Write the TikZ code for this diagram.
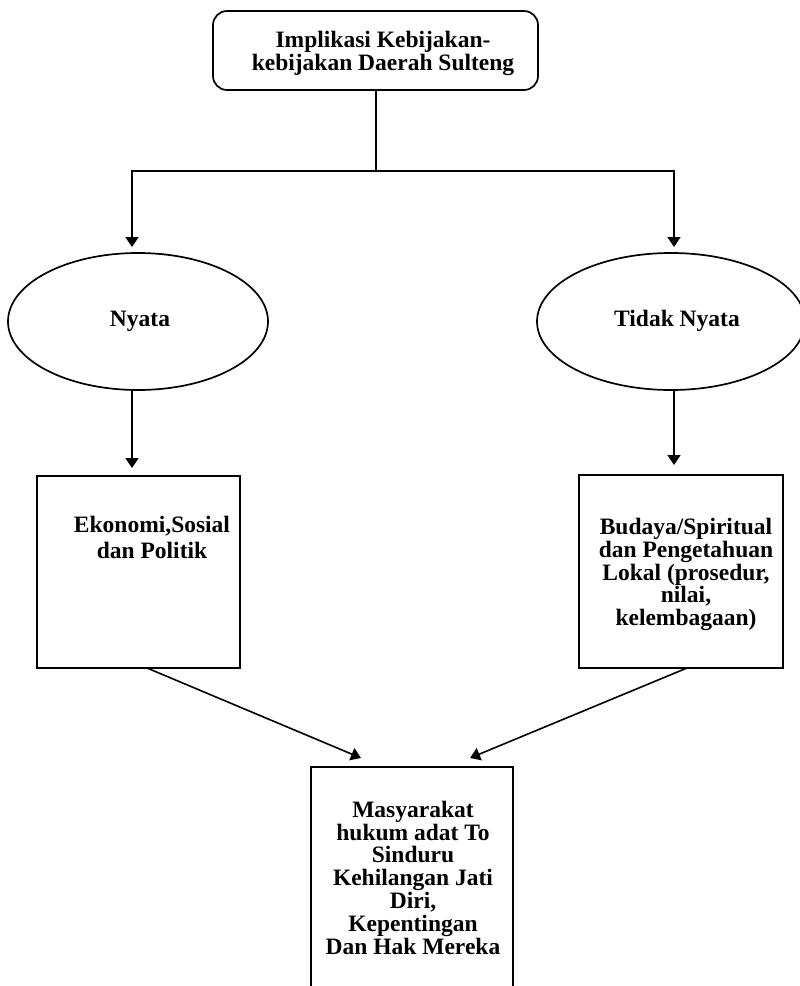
\documentclass[tikz,border=0pt]{standalone}
\usepackage{fontspec}
\setmainfont{Liberation Serif}
\usetikzlibrary{arrows.meta,shapes.geometric}
\begin{document}
\begin{tikzpicture}[x=1pt,y=-1pt,
  shape line/.style={draw, line width=1.7pt, inner sep=0pt},
  txt/.style={font=\fontsize{23.5}{22.8}\selectfont\bfseries, align=center, inner sep=0pt, anchor=base},
  conn/.style={line width=1.6pt},
  tip/.style={conn, -{Triangle[length=10pt,width=13pt]}},
]
\useasboundingbox (0,0) rectangle (800,986);

% shapes
\node[shape line, rounded corners=14pt, minimum width=325pt, minimum height=79pt] (top) at (375.5,50.5) {};
\node[shape line, ellipse, minimum width=260pt, minimum height=137pt] (nyata) at (138,321.5) {};
\node[shape line, ellipse, minimum width=268pt, minimum height=137pt] (tnyata) at (671,321.5) {};
\node[shape line, minimum width=203pt, minimum height=192pt] (eko) at (138.5,572) {};
\node[shape line, minimum width=204pt, minimum height=193pt] (budaya) at (681,571.5) {};

% bottom box, open at the lower edge
\coordinate (mTL) at (311,767);
\coordinate (mTR) at (513,767);
\draw[line width=1.7pt] (311,990) -- (mTL) -- (mTR) -- (513,990);

% texts (anchored at the baseline of the last line)
\node[txt] (topText) at (383,70) {Implikasi Kebijakan-\\kebijakan Daerah Sulteng};
\node[txt] (nyataText) at (140,326) {Nyata};
\node[txt] (tnyataText) at (677,326) {Tidak Nyata};
\node[txt] (ekoText) at (152,558.5) {Ekonomi,Sosial\\[2.9pt]dan Politik};
\node[txt] (budayaText) at (686,625.7) {Budaya/Spiritual\\dan Pengetahuan\\Lokal (prosedur,\\nilai,\\kelembagaan)};
\node[txt] (mText) at (413,954) {Masyarakat\\hukum adat To\\Sinduru\\Kehilangan Jati\\Diri,\\Kepentingan\\Dan Hak Mereka};

% connectors
\coordinate (split) at (376,171);
\coordinate (nyataIn) at (132,247);
\coordinate (tnyataIn) at (674,247);
\coordinate (ekoIn) at (132,468);
\coordinate (budayaIn) at (674,465);
\coordinate (ekoOut) at (147,668);
\coordinate (budayaOut) at (687,668);
\coordinate (mInL) at (361,758);
\coordinate (mInR) at (470,758);

\draw[conn] (top.south -| split) -- (split);
\draw[tip] (split) -| (nyataIn);
\draw[tip] (split) -| (tnyataIn);
\draw[tip] (nyataIn |- nyata.south) -- (ekoIn);
\draw[tip] (tnyataIn |- tnyata.south) -- (budayaIn);
\draw[tip] (ekoOut) -- (mInL);
\draw[tip] (budayaOut) -- (mInR);
\end{tikzpicture}
\end{document}
